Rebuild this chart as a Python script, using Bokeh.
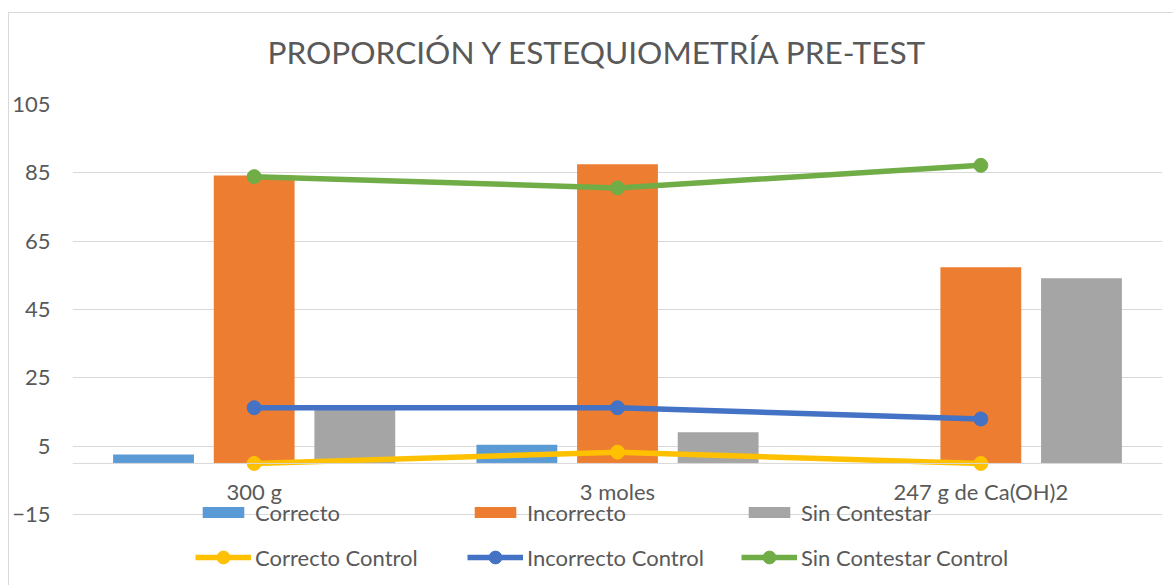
from bokeh.plotting import figure
from bokeh.models import (FactorRange, Range1d, FixedTicker, Span, Legend,
                          LegendItem, ColumnDataSource, Title)
from bokeh.transform import dodge
from bokeh.core.properties import value
from bokeh.embed import file_html
from bokeh.resources import INLINE

# ---- data ----
categories = ["300 g", "3 moles", "247 g de Ca(OH)2"]
correcto = [2.6, 5.5, 0]
incorrecto = [84.2, 87.5, 57.4]
sin_contestar = [15.8, 9.1, 54.2]
correcto_control = [0, 3.3, 0]
incorrecto_control = [16.3, 16.3, 13.0]
sin_contestar_control = [83.9, 80.6, 87.2]
y_ticks = [-15, 5, 25, 45, 65, 85, 105]
title_text = "PROPORCIÓN Y ESTEQUIOMETRÍA PRE-TEST"

FONT = "Lato"
TXT = "#595959"
GRID = "#d9d9d9"

src = ColumnDataSource(dict(cat=categories, c=correcto, i=incorrecto, s=sin_contestar,
                            cc=correcto_control, ic=incorrecto_control,
                            sc=sin_contestar_control, zero=[0] * len(categories)))

p = figure(x_range=FactorRange(*categories), y_range=Range1d(-36.0, 105),
           width=1165, height=573, output_backend="svg", toolbar_location=None,
           min_border_left=60, min_border_right=12, min_border_top=91, min_border_bottom=0)
p.outline_line_color = None
p.background_fill_color = "white"
p.border_fill_color = "white"
p.styles = {"margin-left": "8px", "margin-top": "12px",
            "border-left": "1px solid #d9d9d9", "border-top": "1px solid #d9d9d9"}

# spacer (next to the frame), then the real title above it
p.add_layout(Title(text=" ", text_font_size="20px", standoff=10), "above")
p.add_layout(Title(text=title_text, align="left", offset=195, vertical_align="bottom",
                   standoff=0, text_font=FONT, text_font_style="normal",
                   text_font_size="31.6px", text_color=TXT), "above")

p.xaxis.visible = False
p.xgrid.visible = False
p.ygrid.ticker = FixedTicker(ticks=y_ticks)
p.ygrid.grid_line_color = GRID
p.ygrid.grid_line_width = 1

ya = p.yaxis[0]
ya.ticker = FixedTicker(ticks=y_ticks)
ya.axis_line_color = None
ya.major_tick_line_color = None
ya.minor_tick_line_color = None
ya.major_tick_out = 0
ya.major_label_standoff = 22
ya.major_label_text_font = FONT
ya.major_label_text_font_size = "22px"
ya.major_label_text_color = TXT

p.add_layout(Span(location=0, dimension="width", line_color=GRID, line_width=1))

bw = 0.2225
off = 0.277
r_c = p.vbar(x=dodge("cat", -off, range=p.x_range), top="c", width=bw, source=src,
             fill_color="#5B9BD5", line_color=None)
r_i = p.vbar(x=dodge("cat", 0, range=p.x_range), top="i", width=bw, source=src,
             fill_color="#ED7D31", line_color=None)
r_s = p.vbar(x=dodge("cat", off, range=p.x_range), top="s", width=bw, source=src,
             fill_color="#A5A5A5", line_color=None)

lw = 5.5
ms = 14
line_renderers = []
for key, col in [("cc", "#FFC000"), ("ic", "#4472C4"), ("sc", "#70AD47")]:
    l = p.line(x="cat", y=key, source=src, line_color=col, line_width=lw)
    m = p.scatter(x="cat", y=key, source=src, size=ms, fill_color=col, line_color=col)
    line_renderers.append([l, m])

# category labels along the zero line
p.text(x="cat", y="zero", text="cat", source=src, text_font=value(FONT),
       text_font_size="22px", text_color=TXT, text_align="center",
       text_baseline="middle", y_offset=28)

# legends, one per entry
entries = [
    ("Correcto", [r_c], 125, 60),
    ("Incorrecto", [r_i], 397, 60),
    ("Sin Contestar", [r_s], 671, 60),
    ("Correcto Control", line_renderers[0], 123, 13),
    ("Incorrecto Control", line_renderers[1], 395, 13),
    ("Sin Contestar Control", line_renderers[2], 669, 13),
]
for i, (lab, rends, lx, ly) in enumerate(entries):
    is_bar = i < 3
    lg = Legend(items=[LegendItem(label=lab, renderers=rends)], location=(lx, ly),
                orientation="horizontal", padding=0, margin=0, spacing=0,
                border_line_color=None, background_fill_alpha=0,
                glyph_width=52 if is_bar else 56, glyph_height=14 if is_bar else 32,
                label_standoff=6 if is_bar else 4, label_height=28,
                label_text_font=FONT, label_text_font_size="22px",
                label_text_color=TXT)
    p.add_layout(lg, "center")

open("out.html", "w").write(file_html(p, INLINE))
